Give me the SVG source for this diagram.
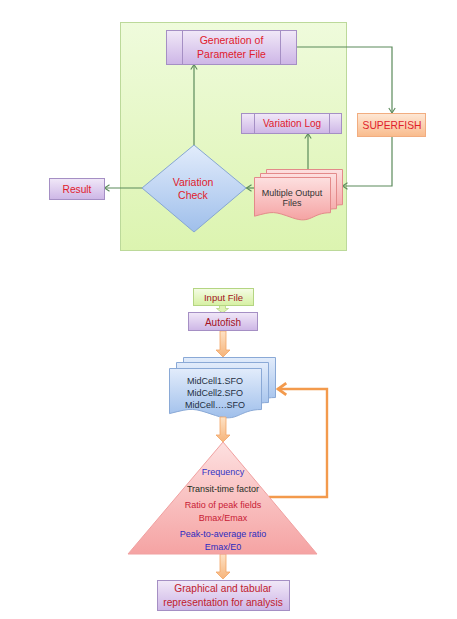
<svg xmlns="http://www.w3.org/2000/svg" width="457" height="619" viewBox="0 0 457 619">
<defs>
<linearGradient id="gBg" x1="0" y1="0" x2="0" y2="1"><stop offset="0" stop-color="#effbdc"/><stop offset="1" stop-color="#dcf4b0"/></linearGradient>
<linearGradient id="gPur" x1="0" y1="0" x2="0" y2="1"><stop offset="0" stop-color="#f1e8f8"/><stop offset="1" stop-color="#cdb6e6"/></linearGradient>
<linearGradient id="gOra" x1="0" y1="0" x2="0" y2="1"><stop offset="0" stop-color="#fee8d6"/><stop offset="1" stop-color="#f9bb8c"/></linearGradient>
<linearGradient id="gBlu" x1="0" y1="0" x2="0" y2="1"><stop offset="0" stop-color="#e2ecfb"/><stop offset="1" stop-color="#9fbfeb"/></linearGradient>
<linearGradient id="gPink" x1="0" y1="0" x2="0" y2="1"><stop offset="0" stop-color="#fde0e0"/><stop offset="1" stop-color="#f5a3a3"/></linearGradient>
<linearGradient id="gGrn" x1="0" y1="0" x2="0" y2="1"><stop offset="0" stop-color="#f5fce6"/><stop offset="1" stop-color="#d6f0a2"/></linearGradient>
<linearGradient id="gArr" x1="0" y1="0" x2="0" y2="1"><stop offset="0" stop-color="#fde2c6"/><stop offset="1" stop-color="#f6b47a"/></linearGradient>
<marker id="mG" markerUnits="userSpaceOnUse" markerWidth="8" markerHeight="8" viewBox="0 0 6 8" refX="5.5" refY="4" orient="auto">
<path d="M0.5,0.8 L5.5,4 L0.5,7.2" fill="none" stroke="#5b8a5b" stroke-width="1.1"/>
</marker>
<marker id="mO" markerUnits="userSpaceOnUse" markerWidth="12" markerHeight="14" viewBox="0 0 10 12" refX="9" refY="6" orient="auto">
<path d="M1.5,1 L8.5,6 L1.5,11" fill="none" stroke="#f39a4c" stroke-width="2.4"/>
</marker>
</defs>
<style>
text{font-family:"Liberation Sans",Arial,sans-serif;text-anchor:middle}
.pur{fill:url(#gPur);stroke:#a58fc4;stroke-width:1}
.bar{stroke:#a58fc4;stroke-width:1}
.red{fill:#e0202c}
.con{fill:none;stroke:#5b8a5b;stroke-width:1.2;marker-end:url(#mG)}
.blk{fill:#c8872c;}
.oarr{fill:url(#gArr);stroke:#f2a566;stroke-width:0.8}
</style>

<rect id="bg" x="120.5" y="22.5" width="226" height="228" fill="url(#gBg)" stroke="#bcd99a" stroke-width="1"/>

<g id="connectors">
<path class="con" d="M296,47 H392 V113"/>
<path class="con" d="M392,136 V186 H342.5"/>
<path class="con" d="M254,188 H246.5"/>
<path class="con" d="M308,169 V133.5"/>
<path class="con" d="M194,145 V64.5"/>
<path class="con" d="M142,188 H104.5"/>
<path d="M269,497 H327 V389 H277.5" fill="none" stroke="#f39a4c" stroke-width="2.4" marker-end="url(#mO)"/>
<polygon id="a-in" points="219.5,305 225.5,305 225.5,308.5 228.5,308.5 222.5,313 216.5,308.5 219.5,308.5" fill="#dff3b4" stroke="#b4d582" stroke-width="0.8"/>
<polygon id="a1" class="oarr" points="220,331 226,331 226,350 230,350 223,357 216,350 220,350"/>
<polygon id="a3" class="oarr" points="220,554 226,554 226,572 230,572 223,579 216,572 220,572"/>
</g>

<g id="gen">
<rect class="pur" x="166.5" y="30.5" width="130" height="34"/>
<line class="bar" x1="182.5" y1="30.5" x2="182.5" y2="64.5"/>
<line class="bar" x1="280.5" y1="30.5" x2="280.5" y2="64.5"/>
<text class="red" x="231.5" y="43.5" font-size="10.5">Generation of</text>
<text class="red" x="231.5" y="57.5" font-size="10.5">Parameter File</text>
</g>

<g id="varlog">
<rect class="pur" x="241.5" y="113.5" width="100" height="20"/>
<line class="bar" x1="254.5" y1="113.5" x2="254.5" y2="133.5"/>
<line class="bar" x1="329.5" y1="113.5" x2="329.5" y2="133.5"/>
<text class="red" x="292" y="127" font-size="10">Variation Log</text>
</g>

<g id="superfish">
<rect x="357.5" y="113.5" width="68" height="23" fill="url(#gOra)" stroke="#f2ad80" stroke-width="1"/>
<text class="red" x="392" y="128.5" font-size="10.3">SUPERFISH</text>
</g>

<g id="result">
<rect class="pur" x="49.5" y="178.5" width="55" height="21"/>
<text class="red" x="77" y="192.5" font-size="10.2">Result</text>
</g>

<g id="check">
<polygon points="194,145 246,188 194,232 142,188" fill="url(#gBlu)" stroke="#86a6d2" stroke-width="1"/>
<text class="red" x="193" y="185.5" font-size="10.5">Variation</text>
<text class="red" x="193" y="199" font-size="10.5">Check</text>
</g>

<g id="outputs">
<path d="M266.5,169.5 h76 v35.2 c-19,0 -19,11.8 -38,5.1 c-19,-6.7 -19,-6.7 -38,-1.6 z" fill="url(#gPink)" stroke="#e38a8a" stroke-width="1"/>
<path d="M260.5,173.5 h76 v35.2 c-19,0 -19,11.8 -38,5.1 c-19,-6.7 -19,-6.7 -38,-1.6 z" fill="url(#gPink)" stroke="#e38a8a" stroke-width="1"/>
<path d="M254.5,177.5 h76 v35.2 c-19,0 -19,11.8 -38,5.1 c-19,-6.7 -19,-6.7 -38,-1.6 z" fill="url(#gPink)" stroke="#e38a8a" stroke-width="1"/>
<text x="292" y="195.5" font-size="9" fill="#333333">Multiple Output</text>
<text x="292" y="206" font-size="9" fill="#333333">Files</text>
</g>

<g id="input">
<rect x="193.5" y="288.5" width="60" height="17" fill="url(#gGrn)" stroke="#b4d582" stroke-width="1"/>
<text x="223.5" y="300.5" font-size="9.5" fill="#a3131f">Input File</text>
</g>

<g id="autofish">
<rect class="pur" x="188.5" y="312.5" width="69" height="18"/>
<text x="223" y="325.5" font-size="10" fill="#a3131f">Autofish</text>
</g>

<g id="midcell">
<path d="M183.5,357.5 h92 v40 c-23,0 -23,13.4 -46,5.8 c-23,-7.6 -23,-7.6 -46,-1.8 z" fill="url(#gBlu)" stroke="#8aa9d6" stroke-width="1"/>
<path d="M176.5,362.5 h92 v40 c-23,0 -23,13.4 -46,5.8 c-23,-7.6 -23,-7.6 -46,-1.8 z" fill="url(#gBlu)" stroke="#8aa9d6" stroke-width="1"/>
<path d="M169.5,368.5 h92 v41 c-23,0 -23,13.7 -46,6 c-23,-7.8 -23,-7.8 -46,-1.9 z" fill="url(#gBlu)" stroke="#8aa9d6" stroke-width="1"/>
<text x="215" y="384" font-size="9" fill="#1f2f3f">MidCell1.SFO</text>
<text x="215" y="396" font-size="9" fill="#1f2f3f">MidCell2.SFO</text>
<text x="215" y="408" font-size="9" fill="#1f2f3f">MidCell….SFO</text>
</g>

<g id="params">
<polygon points="223,442 317,554 128,554" fill="url(#gPink)" stroke="#f0a0a0" stroke-width="1"/>
<text x="223" y="475" font-size="9" fill="#3434c4">Frequency</text>
<text x="223" y="492" font-size="9" fill="#1f2f1f">Transit-time factor</text>
<text x="223" y="507.5" font-size="9" fill="#c82034">Ratio of peak fields</text>
<text x="223" y="521" font-size="9" fill="#c82034">Bmax/Emax</text>
<text x="223" y="536.5" font-size="9" fill="#2c2cc0">Peak-to-average ratio</text>
<text x="223" y="550" font-size="9" fill="#2c2cc0">Emax/E0</text>
</g>

<polygon id="a2" class="oarr" points="220,417 226,417 226,435 230,435 223,442 216,435 220,435"/>

<g id="graph">
<rect class="pur" x="157.5" y="580.5" width="132" height="30"/>
<text x="223" y="591.5" font-size="10.2" fill="#c0202c">Graphical and tabular</text>
<text x="223" y="606" font-size="10.2" fill="#c0202c">representation for analysis</text>
</g>
</svg>
